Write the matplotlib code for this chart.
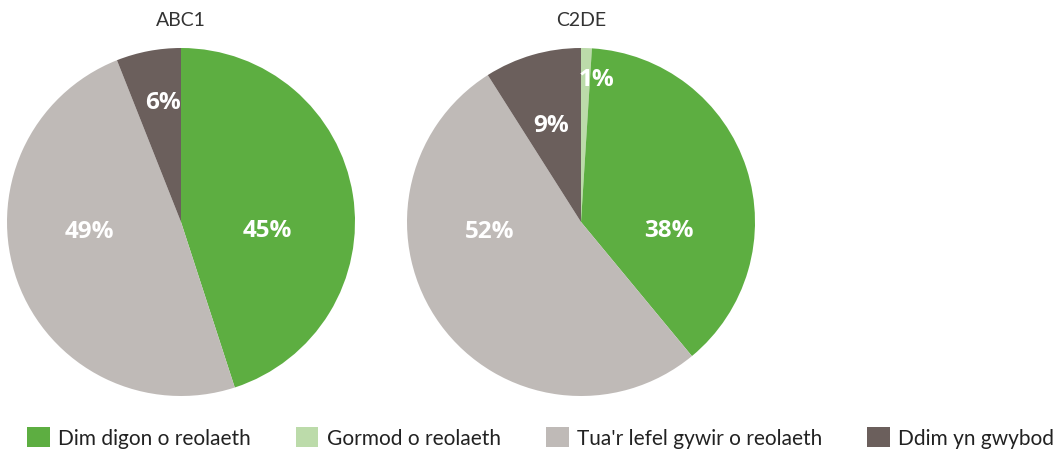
import matplotlib
matplotlib.use("Agg")
import matplotlib.pyplot as plt
from matplotlib.patches import Patch
import numpy as np

plt.rcParams['font.family'] = ['Lato', 'DejaVu Sans']

# ---- data ----
categories = ["Dim digon o reolaeth", "Gormod o reolaeth",
              "Tua'r lefel gywir o reolaeth", "Ddim yn gwybod"]
groups = ["ABC1", "C2DE"]
abc1_values = [45, 0, 49, 6]
c2de_values = [38, 1, 52, 9]
abc1_labels = ["45%", "", "49%", "6%"]
c2de_labels = ["38%", "1%", "52%", "9%"]

# ---- style ----
colors = ["#5DAE41", "#BCDBAA", "#BFBAB7", "#6B5F5C"]
# drawing order clockwise from 12 o'clock
draw_order = [1, 0, 2, 3]
# label placement (radius fraction, angle in degrees from +x axis, ccw)
abc1_label_pos = [(0.5, -6), None, (0.53, 186), (0.69, 98.6)]
c2de_label_pos = [(0.51, -6), (0.82, 83.6), (0.53, 186), (0.58, 107.5)]

W, H = 1057, 455
fig = plt.figure(figsize=(W / 100, H / 100), dpi=100)

R = 174
centers = [(181, 222), (581, 222)]
all_vals = [abc1_values, c2de_values]
all_labels = [abc1_labels, c2de_labels]
all_pos = [abc1_label_pos, c2de_label_pos]

for (cx, cy), title, vals, labs, poss in zip(centers, groups, all_vals, all_labels, all_pos):
    ax = fig.add_axes([(cx - R) / W, (H - cy - R) / H, 2 * R / W, 2 * R / H])
    v = [vals[i] for i in draw_order]
    c = [colors[i] for i in draw_order]
    ax.pie(v, colors=c, startangle=90, counterclock=False, radius=1,
           wedgeprops=dict(linewidth=0))
    ax.set_xlim(-1, 1)
    ax.set_ylim(-1, 1)
    ax.set_aspect('equal')
    ax.axis('off')
    for lab, pos in zip(labs, poss):
        if not lab or pos is None:
            continue
        r, ang = pos
        ax.text(r * np.cos(np.radians(ang)), r * np.sin(np.radians(ang)), lab,
                ha='center', va='center', color='white', fontsize=17.5,
                fontweight='bold', family=['Open Sans', 'DejaVu Sans'])
    fig.text(cx / W, 1 - 20 / H, title, ha='center', va='center',
             fontsize=14, color='#333333')

handles = [Patch(facecolor=col, edgecolor='none') for col in colors]
fig.legend(handles, categories, loc='center left', bbox_to_anchor=(8 / W, 1 - 438 / H),
           ncol=4, frameon=False, fontsize=15, handlelength=1.1, handleheight=1.1,
           handletextpad=0.4, columnspacing=2.15, labelcolor='#222222')

fig.savefig("out.png", dpi=100)
